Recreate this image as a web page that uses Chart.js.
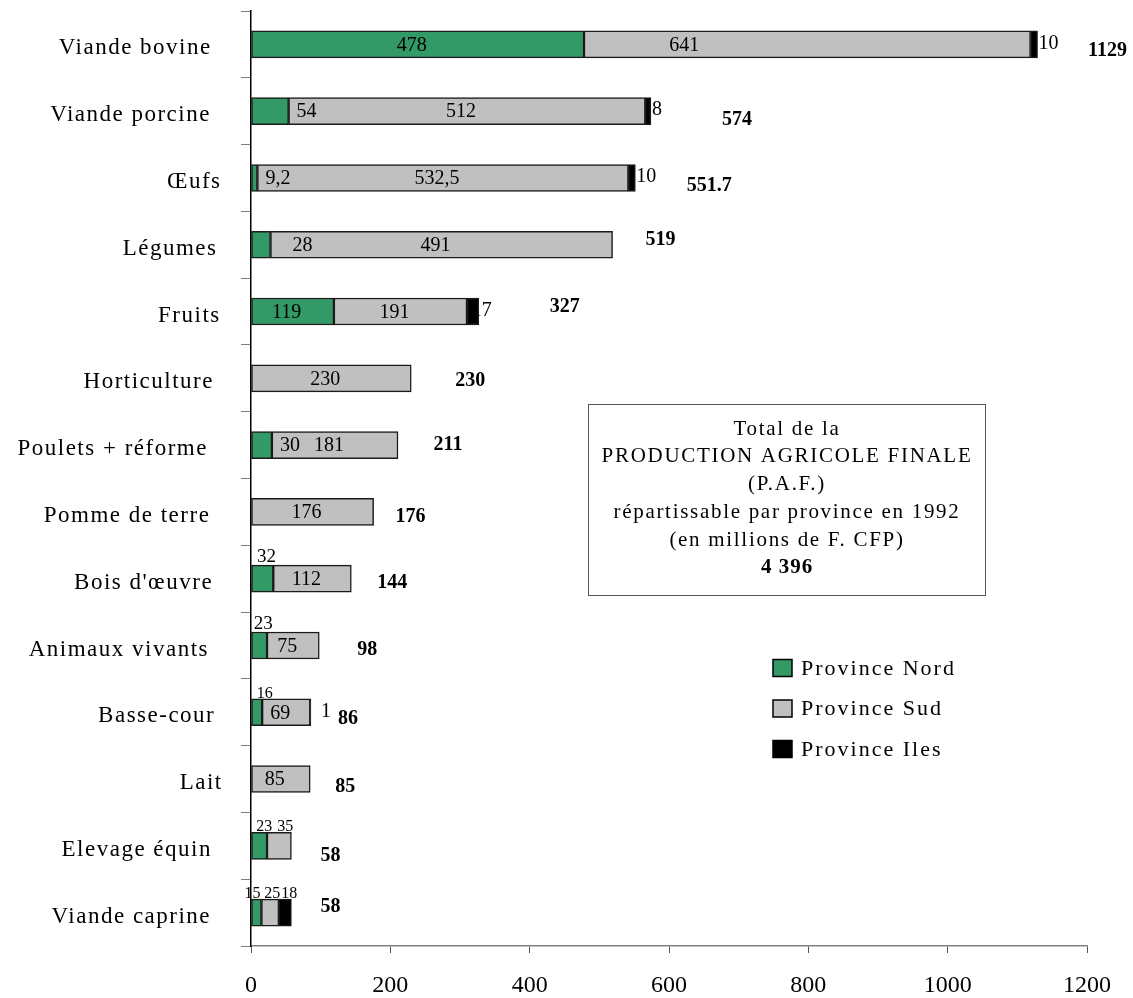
<!DOCTYPE html>
<html lang="fr">
<head>
<meta charset="UTF-8">
<title>Production agricole finale 1992</title>
<script src="https://cdn.jsdelivr.net/npm/chart.js@4.4.1/dist/chart.umd.min.js"></script>
<style>
  html, body { margin: 0; padding: 0; background: #fff; }
  #wrap { width: 1133px; height: 998px; position: relative; }
</style>
</head>
<body>
<div id="wrap"><canvas id="paf"></canvas></div>
<script>
// data (millions de F. CFP)
const categories = ['Viande bovine', 'Viande porcine', 'Œufs', 'Légumes', 'Fruits', 'Horticulture',
  'Poulets + réforme', 'Pomme de terre', "Bois d'œuvre", 'Animaux vivants', 'Basse-cour', 'Lait',
  'Elevage équin', 'Viande caprine'];
const nord = [478, 54, 9.2, 28, 119, null, 30, null, 32, 23, 16, null, 23, 15];
const sud = [641, 512, 532.5, 491, 191, 230, 181, 176, 112, 75, 69, 85, 35, 25];
const iles = [10, 8, 10, null, 17, null, null, null, null, null, 1, null, null, 18];
const totals = [1129, 574, 551.7, 519, 327, 230, 211, 176, 144, 98, 86, 85, 58, 58];
const seriesNames = ['Province Nord', 'Province Sud', 'Province Iles'];
const xTicks = [0, 200, 400, 600, 800, 1000, 1200];
const boxLines = ['Total de la', 'PRODUCTION AGRICOLE FINALE', '(P.A.F.)',
  'répartissable par province en 1992', '(en millions de F. CFP)'];
const boxTotal = '4 396';

// where each value label sits (layout only)
const nordPlace = ['c', 'after', 'after', 'after', 'c', null, 'after', null, 'above', 'above', 'aboveS', null, 'aboveS', 'aboveS'];
const sudPlace = ['c', 'c', 'c', 'c', 'c', 'c', 'c', 'c', 'c', 'c', 'c', 'c', 'aboveS', 'aboveS'];
const ilesPlace = ['end', 'end', 'end', null, 'end', null, null, null, null, null, 'end', null, null, 'aboveS'];
const totalDx = [70, 86, 74, 48, 86, 59, 50, 37, 41, 48, 37, 35, 39, 39];
const totalDy = [6, 9, 8, -5, -5, 3, 0, 5, 4, 4, 7, 8, 10, -6];
const labelShift = { '1:0': -117, '2:4': -8, '2:10': 9, '0:3': 14, '0:10': 6, '0:13': -6, '0:12': 3, '1:12': 4, '2:13': 2 };

const SERIF = "'Liberation Serif', 'Times New Roman', serif";
const colors = ['#339966', '#C0C0C0', '#000000'];

function fmt(v) {
  return String(v).replace('.', ',');
}

const labelPlugin = {
  id: 'pafLabels',
  beforeDatasetsDraw(chart) {
    // labels after the bar end go under the bars (Fruits "17" is half hidden)
    drawSegLabels(chart, ['end']);
  },
  afterDatasetsDraw(chart) {
    drawSegLabels(chart, ['c', 'after', 'above', 'aboveS']);
    const ctx = chart.ctx;
    const xs = chart.scales.x, ys = chart.scales.y;

    // totals
    ctx.save();
    ctx.fillStyle = '#000';
    ctx.font = 'bold 20px ' + SERIF;
    ctx.textAlign = 'center';
    ctx.textBaseline = 'middle';
    totals.forEach((t, i) => {
      ctx.fillText(String(t), xs.getPixelForValue(t) + totalDx[i], ys.getPixelForValue(i) + totalDy[i]);
    });
    ctx.restore();

    // category names (long names sit a little further left, as in the original)
    ctx.save();
    ctx.fillStyle = '#000';
    ctx.font = '23px ' + SERIF;
    ctx.letterSpacing = '1.5px';
    ctx.textAlign = 'left';
    ctx.textBaseline = 'middle';
    categories.forEach((c, i) => {
      const w = ctx.measureText(c).width;
      ctx.fillText(c, 227 - 1.1 * w, ys.getPixelForValue(i) + 4);
    });
    ctx.restore();

    // text box
    ctx.save();
    ctx.strokeStyle = '#555';
    ctx.lineWidth = 1;
    ctx.strokeRect(588.5, 404.5, 397, 191);
    ctx.fillStyle = '#000';
    ctx.textAlign = 'center';
    ctx.textBaseline = 'middle';
    ctx.font = '21px ' + SERIF;
    ctx.letterSpacing = '1.7px';
    boxLines.forEach((l, k) => ctx.fillText(l, 787, 429 + k * 27.8));
    ctx.font = 'bold 21px ' + SERIF;
    ctx.letterSpacing = '1px';
    ctx.fillText(boxTotal, 787, 429 + 5 * 27.8);
    ctx.restore();

    // legend
    ctx.save();
    ctx.font = '22px ' + SERIF;
    ctx.letterSpacing = '2px';
    ctx.textAlign = 'left';
    ctx.textBaseline = 'middle';
    chart.data.datasets.forEach((ds, k) => {
      const cy = 668 + k * 40.5;
      ctx.fillStyle = ds.backgroundColor;
      ctx.fillRect(773, cy - 8.5, 19, 17);
      ctx.strokeStyle = '#000';
      ctx.lineWidth = 1.5;
      ctx.strokeRect(773, cy - 8.5, 19, 17);
      ctx.fillStyle = '#000';
      ctx.fillText(ds.label, 801, cy + 1);
    });
    ctx.restore();
  }
};

function drawSegLabels(chart, kinds) {
  const ctx = chart.ctx;
  const places = [nordPlace, sudPlace, ilesPlace];
  ctx.save();
  ctx.fillStyle = '#000';
  chart.data.datasets.forEach((ds, d) => {
    const meta = chart.getDatasetMeta(d);
    ds.data.forEach((v, i) => {
      const p = places[d][i];
      if (v === null || !p || kinds.indexOf(p) < 0) return;
      const el = meta.data[i];
      const { x, base, y, height } = el.getProps(['x', 'base', 'y', 'height'], true);
      const left = Math.min(x, base), right = Math.max(x, base);
      const shift = labelShift[d + ':' + i] || 0;
      const txt = fmt(v);
      if (p === 'c') {
        ctx.font = '20px ' + SERIF;
        ctx.textAlign = 'center';
        ctx.textBaseline = 'middle';
        ctx.fillText(txt, (left + right) / 2 - 6 + shift, y + 1);
      } else if (p === 'after') {
        ctx.font = '20px ' + SERIF;
        ctx.textAlign = 'left';
        ctx.textBaseline = 'middle';
        ctx.fillText(txt, right + 8 + shift, y + 1);
      } else if (p === 'end') {
        ctx.font = '20px ' + SERIF;
        ctx.textAlign = 'left';
        ctx.textBaseline = 'middle';
        ctx.fillText(txt, right + 1 + shift, y - 1);
      } else if (p === 'above') {
        ctx.font = '19px ' + SERIF;
        ctx.textAlign = 'center';
        ctx.textBaseline = 'alphabetic';
        ctx.fillText(txt, (left + right) / 2 + 4 + shift, y - height / 2 - 3);
      } else if (p === 'aboveS') {
        ctx.font = '16px ' + SERIF;
        ctx.textAlign = 'center';
        ctx.textBaseline = 'alphabetic';
        ctx.fillText(txt, (left + right) / 2 + 2 + shift, y - height / 2 - 1);
      }
    });
  });
  ctx.restore();
}

const datasets = [nord, sud, iles].map((arr, k) => ({
  label: seriesNames[k],
  data: arr,
  backgroundColor: colors[k],
  borderColor: '#1a1a1a',
  borderWidth: 1.5,
  borderSkipped: false,
  barThickness: 27
}));

new Chart(document.getElementById('paf'), {
  type: 'bar',
  data: { labels: categories, datasets: datasets },
  options: {
    indexAxis: 'y',
    responsive: true,
    maintainAspectRatio: false,
    animation: false,
    layout: { padding: { left: 241, right: 46, top: 11, bottom: -21 } },
    plugins: { legend: { display: false }, tooltip: { enabled: false } },
    scales: {
      x: {
        stacked: true,
        min: xTicks[0],
        max: xTicks[xTicks.length - 1],
        afterBuildTicks: (scale) => { scale.ticks = xTicks.map(v => ({ value: v })); },
        ticks: {
          color: '#000', padding: 21,
          font: { family: SERIF, size: 24, lineHeight: 1 },
          callback: (v) => String(v)
        },
        grid: { drawOnChartArea: false, tickLength: 7, tickColor: '#555' },
        border: { color: '#808080', width: 1.5 }
      },
      y: {
        stacked: true,
        offset: true,
        ticks: { display: false },
        grid: { offset: true, drawOnChartArea: false, tickLength: 10, tickColor: '#808080' },
        border: { color: '#000', width: 1.5 }
      }
    }
  },
  plugins: [labelPlugin]
});
</script>
</body>
</html>
